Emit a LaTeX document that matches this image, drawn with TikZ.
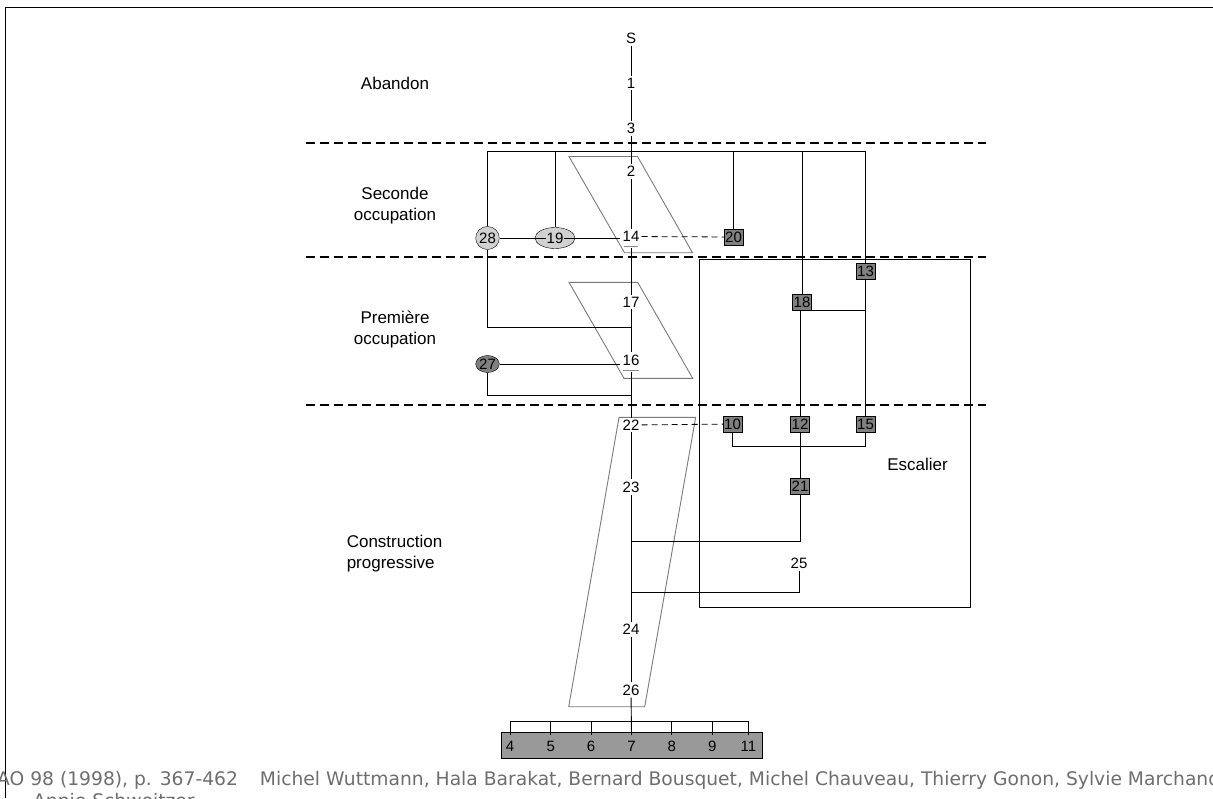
\documentclass[tikz,border=0pt]{standalone}
\usepackage{fontspec}
\setmainfont{Liberation Sans}
\newfontfamily\footfont{DejaVu Sans}
\usetikzlibrary{shapes.geometric}
\definecolor{parcol}{HTML}{7A7A7A}
\definecolor{footcol}{HTML}{6E6E6E}
\begin{document}
\begin{tikzpicture}[x=1pt,y=-1pt,
  num/.style={inner sep=2pt,font=\fontsize{15}{17}\selectfont},
  lab/.style={align=center,font=\fontsize{17}{21}\selectfont},
  box/.style={draw,fill=black!50,minimum width=19pt,minimum height=16pt,inner sep=0.5pt,font=\fontsize{15}{17}\selectfont},
  blob/.style={draw,ellipse,inner sep=0pt,font=\fontsize{15}{17}\selectfont},
  sep/.style={line width=2pt,dash pattern=on 9pt off 5pt},
  par/.style={draw=parcol,line width=0.9pt},
  link/.style={line width=0.9pt},
  weak/.style={line width=0.8pt,dash pattern=on 6pt off 4pt},
  tick/.style={draw=black!45,line width=1.2pt}]
\useasboundingbox (0,0) rectangle (1213,798);
% frame
\draw[line width=1pt] (5,798) -- (5,7) -- (1213,7);
% phases
\foreach \yy in {143,257,405}
  \draw[sep] (306,\yy) -- (986,\yy);
\node[lab] (abandon) at (395,83) {Abandon};
\node[lab] (seconde) at (395,206) {Seconde\\occupation};
\node[lab] (premiere) at (395,330) {Première\\occupation};
\node[lab,align=left] (constr) at (394.5,554) {Construction\\progressive};
% parallelograms
\draw[par] (569,156.5) -- (637.5,156.5) -- (692.5,252.7) -- (624.5,252.7) -- cycle;
\draw[par] (569,282.3) -- (637.7,282.3) -- (692.7,378.3) -- (624,378.3) -- cycle;
\draw[par] (619,417.3) -- (695.7,417.3) -- (644.7,706.7) -- (568.7,706.7) -- cycle;
% escalier
\draw[link] (699,259) rectangle (970,607);
\node[lab] (esc) at (917.5,464) {Escalier};
% main sequence
\node[num] (nS) at (631,38.5) {S};
\node[num] (n1) at (631,83) {1};
\node[num] (n3) at (631,128.5) {3};
\node[num] (n2) at (631,171.5) {2};
\node[num] (n14) at (631,236.5) {14};
\node[num] (n17) at (631,302) {17};
\node[num] (n16) at (631,360) {16};
\node[num] (n22) at (631,425) {22};
\node[num] (n23) at (631,487) {23};
\node[num] (n24) at (631,629.5) {24};
\node[num] (n26) at (631,690) {26};
\node[num] (n25) at (799,563) {25};
% boxes
\node[box] (n20) at (733.5,237) {20};
\node[box] (n13) at (865.5,271) {13};
\node[box] (n18) at (802,302.5) {18};
\node[box] (n10) at (732.5,424) {10};
\node[box] (n12) at (800,424) {12};
\node[box] (n15) at (865.5,424) {15};
\node[box] (n21) at (800,486) {21};
% ellipses
\node[blob,fill=black!18,minimum width=21pt,minimum height=23pt] (n28) at (487.5,238) {28};
\node[blob,fill=black!18,minimum width=40pt,minimum height=21pt] (e19) at (555,238) {};
\node[blob,fill=black!50,minimum width=21pt,minimum height=17pt] (n27) at (487.5,364) {27};
% underlines
\draw[tick] ([xshift=-7pt,yshift=-3pt]n14.south) -- ([xshift=7pt,yshift=-3pt]n14.south);
\draw[tick] ([xshift=-8pt,yshift=-3pt]n16.south) -- ([xshift=8pt,yshift=-3pt]n16.south);
\coordinate (u14) at ([yshift=-4pt]n14.south);
\coordinate (u16) at ([yshift=-4pt]n16.south);
% junctions
\coordinate (top) at (0,151);
\coordinate (low) at (0,446);
\coordinate (brk) at (0,721);
\coordinate (j17) at (631,327.5);
\coordinate (j16) at (631,395);
\coordinate (j23) at (631,541);
\coordinate (j24) at (631,592);
% links
\draw[link] (nS) -- (n1) -- (n3) -- (n2) -- (n14);
\draw[link] (u14) -- (n17) -- (n16);
\draw[link] (u16) -- (n22) -- (n23) -- (n24) -- (n26);
\draw[link] (n28) -- (n28 |- top) -- (n13 |- top) -- (n13);
\draw[link] (e19) -- (e19 |- top);
\draw[link] (n20) -- (n20 |- top);
\draw[link] (n18) -- (n18 |- top);
\draw[link] (n28) -- (n28 -| n14.west);
\node[num,fill=black!18,inner sep=1pt] (n19) at (e19) {19};
\draw[link] (n28) |- (j17);
\draw[weak] (n14) -- (n20);
\draw[link] (n27) -- (n27 -| n16.west);
\draw[link] (n27) |- (j16);
\draw[link] (n12) -- (n12 |- n18.south) -- (n13 |- n18.south);
\draw[link] (n13) -- (n15);
\draw[link] (n10) -- (n10 |- low) -- (n15 |- low) -- (n15);
\draw[link] (n12) -- (n21);
\draw[link] (n21) |- (j23);
\draw[link] (n25) |- (j24);
\draw[weak] (n22) -- (n10);
% foundation bar
\node[draw,fill=black!40,minimum width=261pt,minimum height=26.5pt,inner sep=0pt] (bar) at (631.2,745) {};
\foreach \px/\nm in {510/4,550.7/5,591/6,631.5/7,671.7/8,712.3/9,748.5/11}{
  \node[num] (b\nm) at (\px,746.5) {\nm};
  \draw[link] ([yshift=4pt]b\nm.north) -- (b\nm.north |- brk);
}
\draw[link] (b4 |- brk) -- (b11 |- brk);
\draw[link] (n26) -- ([yshift=4pt]b7.north);
% source
\node[anchor=base west,inner sep=0pt,text=footcol,font=\footfont\fontsize{18.7}{23}\selectfont] (ref) at (-3,785) {AO 98 (1998), p. 367-462\hspace{22pt}Michel Wuttmann, Hala Barakat, Bernard Bousquet, Michel Chauveau, Thierry Gonon, Sylvie Marchand};
\node[anchor=base west,inner sep=0pt,text=footcol,font=\footfont\fontsize{18.7}{23}\selectfont] (ref2) at (33,807) {Annie Schweitzer};
\end{tikzpicture}
\end{document}
